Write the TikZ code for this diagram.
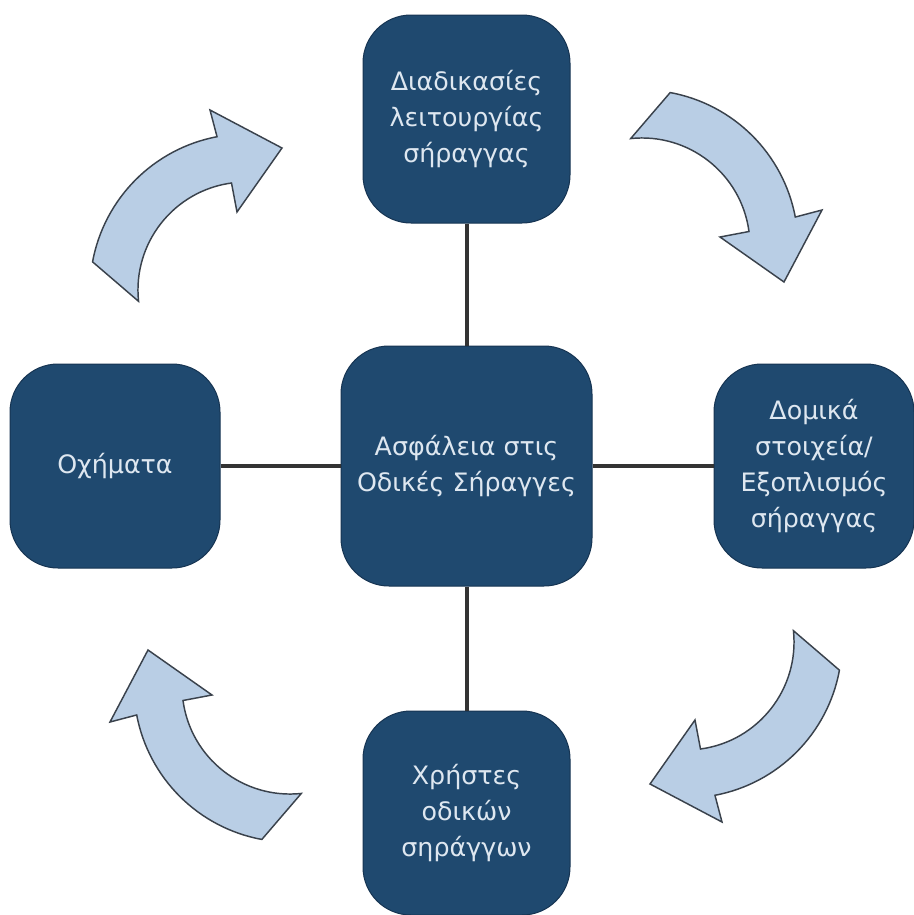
\documentclass[tikz,border=0pt]{standalone}
\usepackage{fontspec}
\setmainfont{DejaVu Sans}
\usepackage{tikz}

\definecolor{boxblue}{RGB}{31,73,111}
\definecolor{boxedge}{RGB}{22,52,82}
\definecolor{arrowfill}{RGB}{185,206,229}
\definecolor{arrowedge}{RGB}{58,66,76}
\definecolor{textlight}{RGB}{222,231,240}
\definecolor{linkgray}{RGB}{51,51,51}

\tikzset{
  topic/.style={draw=boxedge, fill=boxblue, rounded corners=36pt, text=textlight, align=center, inner sep=0pt, line width=0.75pt, font=\fontsize{19}{27}\selectfont},
  link/.style={draw=linkgray, line width=3pt},
  cyclearrow/.style={draw=arrowedge, fill=arrowfill, line width=1.1pt}
}

\begin{document}
\begin{tikzpicture}[x=0.75pt,y=0.75pt,yscale=-1,xscale=1]
\useasboundingbox (0,0) rectangle (914,915);

% Text Node
\draw (466.5,119) node [topic, minimum width=155.25pt, minimum height=156pt] (ops) {Διαδικασίες\\λειτουργίας\\σήραγγας};
% Text Node
\draw (466.5,466) node [topic, minimum width=188.25pt, minimum height=180pt] (safety) {Ασφάλεια στις\\Οδικές Σήραγγες};
% Text Node
\draw (115,466) node [topic, minimum width=157.5pt, minimum height=153pt] (vehicles) {Οχήματα};
% Text Node
\draw (814,466) node [topic, minimum width=150pt, minimum height=153pt] (infra) {Δομικά\\στοιχεία/\\Εξοπλισμός\\σήραγγας};
% Text Node
\draw (466.5,813) node [topic, minimum width=155.25pt, minimum height=153pt] (users) {Χρήστες\\οδικών\\σηράγγων};

%Straight Lines
\draw [link] (ops) -- (safety) ;
%Straight Lines
\draw [link] (safety) -- (users) ;
%Straight Lines
\draw [link] (vehicles) -- (safety) ;
%Straight Lines
\draw [link] (safety) -- (infra) ;

%Curved Arrow (vehicles to ops)
\draw [cyclearrow] (246,290) ++(190.4:156) arc [start angle=190.4, end angle=259.3, radius=156] -- (210,110) -- (282,148) -- (237,212) -- (231.5,183) arc [start angle=262.3, end angle=174, radius=108] -- cycle ;
%Curved Arrow (ops to infra)
\draw [cyclearrow, rotate around={90:(466,466)}] (246,290) ++(190.4:156) arc [start angle=190.4, end angle=259.3, radius=156] -- (210,110) -- (282,148) -- (237,212) -- (231.5,183) arc [start angle=262.3, end angle=174, radius=108] -- cycle ;
%Curved Arrow (infra to users)
\draw [cyclearrow, rotate around={180:(466,466)}] (246,290) ++(190.4:156) arc [start angle=190.4, end angle=259.3, radius=156] -- (210,110) -- (282,148) -- (237,212) -- (231.5,183) arc [start angle=262.3, end angle=174, radius=108] -- cycle ;
%Curved Arrow (users to vehicles)
\draw [cyclearrow, rotate around={270:(466,466)}] (246,290) ++(190.4:156) arc [start angle=190.4, end angle=259.3, radius=156] -- (210,110) -- (282,148) -- (237,212) -- (231.5,183) arc [start angle=262.3, end angle=174, radius=108] -- cycle ;

\end{tikzpicture}
\end{document}
